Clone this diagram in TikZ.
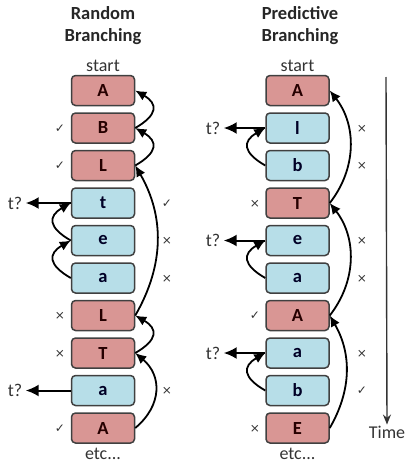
\documentclass[tikz,border=0pt]{standalone}
\usepackage{fontspec}
\setmainfont{Carlito}
\newfontfamily\symfont{DejaVu Sans}
\usetikzlibrary{arrows.meta}

\definecolor{cellred}{HTML}{D99694}
\definecolor{cellblue}{HTML}{B7DEE8}
\definecolor{celledge}{HTML}{404040}

\tikzset{
  cell/.style={draw=celledge, line width=1.5pt, rounded corners=4pt,
    minimum width=63pt, minimum height=30pt, inner sep=0pt,
    font=\fontsize{18.5}{18.5}\selectfont\bfseries},
  red cell/.style={cell, fill=cellred, text=red!15!black},
  blue cell/.style={cell, fill=cellblue, text=blue!15!black},
  hop/.style={-{Latex[length=11pt,width=10pt]}, line width=1.8pt},
  ask/.style={-{Latex[length=13pt,width=12pt]}, line width=2pt},
  verdict/.style={font=\symfont\fontsize{12}{12}\selectfont, text=black!80},
  heading/.style={align=center, font=\fontsize{18.5}{22}\selectfont\bfseries, text=black!85},
  plain/.style={font=\fontsize{18}{18}\selectfont, text=black!80},
}

\begin{document}
\begin{tikzpicture}[x=1pt,y=-1pt]
\useasboundingbox (0,0) rectangle (406,463);

% Headings
\node[heading] (hdL) at (103,26) {Random\\Branching};
\node[heading] (hdR) at (300,26) {Predictive\\Branching};
\node[plain] (startL) at (103,66) {start};
\node[plain] (startR) at (297.5,66) {start};

% Cells
\foreach \txt/\kind [count=\i from 0] in {A/red,B/red,L/red,t/blue,e/blue,a/blue,L/red,T/red,a/blue,A/red}
  \node[\kind\space cell] (L\i) at (103,90.5+37.5*\i) {\txt};
\foreach \txt/\kind [count=\i from 0] in {A/red,l/blue,b/blue,T/red,e/blue,a/blue,A/red,a/blue,b/blue,E/red}
  \node[\kind\space cell] (R\i) at (297.5,90.5+37.5*\i) {\txt};

\node[plain] (etcL) at (103,454) {etc...};
\node[plain] (etcR) at (297.5,454) {etc...};

% Ticks and crosses
\foreach \x/\row/\sym [count=\k] in {60/1/✓,60/2/✓,167/3/✓,167/4/×,167/5/×,60/6/×,60/7/×,167/8/×,60/9/✓,
    362/1/×,362/2/×,255/3/×,362/4/×,362/5/×,255/6/✓,362/7/×,362/8/✓,255/9/×}
  \node[verdict] (v\k) at (\x,91+37.5*\row) {\sym};

% Guesses
\node[plain] (qL1) at (15,203) {t?};
\node[plain] (qL2) at (15,390.5) {t?};
\node[plain] (qR1) at (213,128) {t?};
\node[plain] (qR2) at (213,240.5) {t?};
\node[plain] (qR3) at (213,353) {t?};

% Random branching
\draw[hop] (L1.east) to[bend right=60, looseness=1.8] (L0.east);
\draw[hop] (L2.east) to[bend right=60, looseness=1.8] (L1.east);
\draw[hop] (L6.east) to[bend right=30] (L2.east);
\draw[hop] (L7.east) to[bend right=60, looseness=1.8] (L6.east);
\draw[hop] (L9.east) to[bend right=50, looseness=1.2] (L7.east);
\draw[hop] (L5.west) to[bend left=60, looseness=1.8] (L4.west);
\draw[hop] (L4.west) to[bend left=60, looseness=1.8] (L3.west);
\draw[ask] (L3.west) -- (qL1.east);
\draw[ask] (L8.west) -- (qL2.east);

% Predictive branching
\draw[hop] (R3.east) to[bend right=38] (R0.east);
\draw[hop] (R6.east) to[bend right=38] (R3.east);
\draw[hop] (R9.east) to[bend right=30] (R6.east);
\draw[hop] (R2.west) to[bend left=60, looseness=1.8] (R1.west);
\draw[hop] (R5.west) to[bend left=60, looseness=1.8] (R4.west);
\draw[hop] (R8.west) to[bend left=60, looseness=1.8] (R7.west);
\draw[ask] (R1.west) -- (qR1.east);
\draw[ask] (R4.west) -- (qR2.east);
\draw[ask] (R7.west) -- (qR3.east);

% Time axis
\coordinate (t0) at (386,77);
\node[plain, inner sep=1pt] (time) at (387,432) {Time};
\draw[-{Stealth[length=10pt,width=8pt]}, line width=1.4pt, black!80] (t0) -- (time.north);

\end{tikzpicture}
\end{document}
